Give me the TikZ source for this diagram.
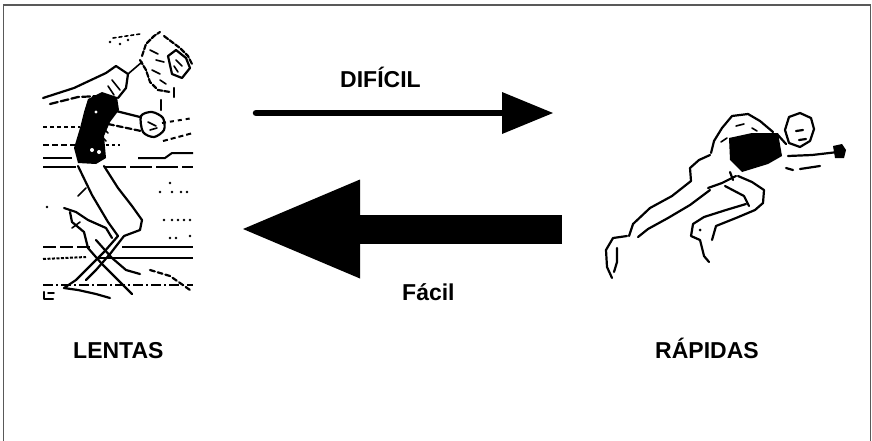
\documentclass[tikz,border=0pt]{standalone}
\usepackage{fontspec}
\setmainfont{Liberation Sans}
\usetikzlibrary{arrows.meta}
\begin{document}
\begin{tikzpicture}[x=1pt,y=-1pt,
  frameline/.style={draw=black!65, line width=1.6pt},
  sketch/.style={black, line width=2.2pt, line join=round, line cap=round},
  fine/.style={sketch, line width=1.6pt},
  broken/.style={sketch, dash pattern=on 5pt off 2pt},
  rope/.style={black, line width=2pt},
  label/.style={font=\fontsize{23}{27}\selectfont\bfseries, inner sep=0pt, anchor=base west},
  hard/.style={line width=6.5pt, line cap=round, -{Triangle[length=51pt,width=42pt,line width=0pt]}},
  easy/.style={line width=29pt, -{Triangle[length=117pt,width=99pt,line width=0pt]}}]
\useasboundingbox (0,0) rectangle (872,440);
\fill[white] (0,0) rectangle (872,440);
\draw[frameline] (3.5,441) -- (3.5,5) -- (870.5,5) -- (870.5,441);

% ---------- boxer in the ring ----------
% ropes
\draw[rope, dash pattern=on 4pt off 3pt] (43,127) -- (80,127);
\draw[rope, dash pattern=on 4pt off 4pt] (162,123) -- (193,118);
\draw[rope, dash pattern=on 6pt off 3pt] (43,145) -- (77,145);
\draw[rope, dash pattern=on 3pt off 3pt] (100,145) -- (120,145);
\draw[rope, dash pattern=on 5pt off 3pt] (163,141) -- (193,133);
\draw[rope] (43,158) -- (72,158);
\draw[rope] (138,158) -- (165,158) -- (172,153) -- (193,153);
\draw[rope] (43,167) -- (76,167);
\draw[rope, dash pattern=on 22pt off 4pt] (104,167) -- (193,167);
\draw[rope, dash pattern=on 13pt off 4pt] (43,247) -- (92,247);
\draw[rope] (122,247) -- (193,247);
\draw[rope, dash pattern=on 3pt off 1.5pt] (43,259) -- (86,257);
\draw[rope] (96,258) -- (193,258);
\draw[rope, dash pattern=on 10pt off 3pt on 2pt off 3pt] (43,285) -- (193,285);
% scattered marks
\foreach \p in {(170,183),(160,192),(172,192),(181,192),(187,192),
                (164,220),(172,220),(178,220),(184,220),(190,220),
                (170,238),(176,238),(190,236),(47,207),(110,42),(120,44),(128,40)}
  \fill \p circle (1.3pt);
\draw[sketch] (44,292) -- (44,299) -- (53,299);
\draw[fine] (48,293) -- (54,293);

% head and guarding glove
\draw[broken] (142,56) -- (146,44) -- (154,36) -- (160,32) (164,36) -- (172,42) -- (180,48)
  -- (188,56) -- (192,64);
\draw[broken] (140,60) -- (146,70) -- (150,82) -- (158,90) -- (170,92);
\draw[sketch] (168,56) -- (176,50) -- (186,58) -- (190,68) -- (182,78) -- (172,74) -- cycle;
\draw[fine] (150,50) -- (158,54) (156,60) -- (164,62) (152,70) -- (160,74)
  (160,80) -- (166,84) (176,60) -- (182,66) (174,66) -- (178,72);
\draw[fine, dash pattern=on 3pt off 3pt] (113,38) -- (140,34);
\draw[sketch] (174,88) -- (174,97);
\draw[sketch] (161,100) -- (161,110);
% raised rear arm
\draw[sketch] (43,98) -- (74,88) -- (106,73) -- (116,66) -- (128,74) -- (126,88) -- (118,98);
\draw[sketch, dash pattern=on 8pt off 3pt] (50,104) -- (78,97) -- (100,96);
\draw[fine] (112,80) -- (120,90) (108,86) -- (114,95) (128,74) -- (142,62);
% torso
\fill (88,99) -- (102,92) -- (117,97) -- (119,110) -- (110,122) -- (104,136)
  -- (106,158) -- (96,164) -- (78,163) -- (74,148) -- (80,128) -- (84,112) -- cycle;
\fill[white] (92,150) circle (2pt) (99,152) circle (2pt) (96,112) circle (1.6pt);
\draw[fine] (100,125) -- (108,133) (98,133) -- (106,141);
% leading arm and glove
\draw[sketch] (112,110) -- (140,117);
\draw[sketch, dash pattern=on 6pt off 3pt] (108,124) -- (141,131);
\draw[sketch] plot[smooth cycle] coordinates {(141,116) (152,112) (163,118) (164,130) (154,137) (143,132)};
\draw[fine] (148,122) -- (156,126) (150,130) -- (157,128);
% rear leg, bent at the knee
\draw[sketch] (78,166) -- (92,195) -- (108,222) -- (118,236);
\draw[sketch] (104,166) -- (118,188) -- (132,206) -- (142,220) -- (140,230) -- (124,236);
\draw[sketch] (118,236) -- (104,252) -- (90,266) -- (76,280) -- (64,288) -- (78,290) -- (96,294) -- (110,298);
\draw[sketch] (124,236) -- (110,254) -- (96,270) -- (86,280);
% front leg
\draw[sketch] (64,208) -- (76,212) -- (88,220) -- (106,228) -- (112,238);
\draw[sketch] (70,212) -- (72,222) -- (84,232) -- (88,248);
\draw[sketch] (88,248) -- (102,264) -- (118,280) -- (132,294);
\draw[sketch] (96,240) -- (112,258) -- (126,270) -- (140,274);
\draw[sketch, dash pattern=on 5pt off 3pt] (150,270) -- (170,276) -- (190,290);
\draw[fine] (72,228) -- (80,222) (78,196) -- (86,188);

% ---------- sprinter ----------
% head and face
\draw[sketch] (789,117) -- (800,113) -- (811,118) -- (814,129) -- (810,141) -- (800,147)
  -- (789,143) -- (785,130) -- cycle;
\draw[sketch] (796,131) -- (803,130) (799,140) -- (806,139);
% reaching arm and hand
\draw[sketch] (788,156) -- (812,155) -- (838,152);
\fill (833,146) -- (842,144) -- (846,150) -- (844,158) -- (835,158) -- cycle;
\draw[sketch] (786,168) -- (793,170) (800,169) -- (820,166);
% back and rear shoulder
\draw[sketch] (711,153) -- (714,141) -- (722,128) -- (732,116) -- (748,114) -- (760,121) -- (773,132);
\draw[fine] (736,126) -- (744,124) (752,128) -- (757,131) (721,142) -- (727,138);
\draw[sketch] (777,134) -- (786,144);
% shirt
\fill (729,138) -- (752,133) -- (778,133) -- (782,156) -- (768,164) -- (742,172) -- (730,160) -- cycle;
% shorts
\draw[sketch] (710,155) -- (699,160) -- (690,168) -- (691,181);
\draw[sketch] (708,188) -- (722,183) -- (736,176);
\draw[sketch] (730,172) -- (733,180);
% rear leg stretched back
\draw[sketch] (691,181) -- (672,196) -- (650,208) -- (633,224) -- (629,236);
\draw[sketch] (710,190) -- (690,205) -- (668,218) -- (648,229) -- (638,237);
\draw[sketch] (627,236) -- (613,238) -- (606,250) -- (607,267) -- (612,278);
\draw[sketch] (617,248) -- (617,262) -- (614,272);
% front leg, knee forward
\draw[sketch] (738,176) -- (752,182) -- (764,190) -- (763,203) -- (755,210);
\draw[sketch] (725,186) -- (744,196) -- (749,206);
\draw[sketch] (755,210) -- (736,218) -- (716,226) -- (712,240);
\draw[sketch] (746,204) -- (726,210) -- (704,217) -- (693,224);
\draw[sketch] (693,224) -- (691,236) -- (700,240) -- (704,256) -- (709,262);
\fill (700,230) circle (1.5pt);

% ---------- arrows and labels ----------
\coordinate (hardA) at (256,113);
\coordinate (hardB) at (553,113);
\draw[hard] (hardA) -- (hardB);
\coordinate (easyA) at (562,229);
\coordinate (easyB) at (243,229);
\draw[easy] (easyA) -- (easyB);

\node[label] (hardlbl) at (340,87) {DIFÍCIL};
\node[label] (easylbl) at (402,300) {Fácil};
\node[label] (slowlbl) at (73,358) {LENTAS};
\node[label] (fastlbl) at (655,358) {RÁPIDAS};
\end{tikzpicture}
\end{document}
